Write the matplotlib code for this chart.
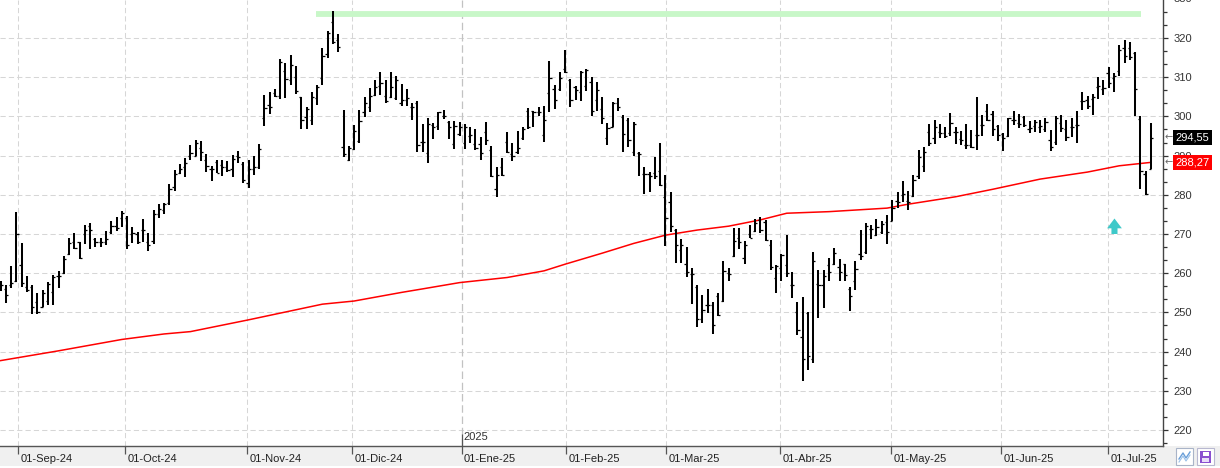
import matplotlib
matplotlib.use("Agg")
import matplotlib.pyplot as plt
import numpy as np
from matplotlib.patches import Rectangle, FancyArrow
from matplotlib.ticker import AutoMinorLocator

# ---------------- data (daily OHLC bars) ----------------
opens = [257, 256, 257, 258, 262, 256.5, 256.5, 252.6, 251.5, 253, 255.3, 259.4, 260, 265, 268, 268,
         270, 272, 268.6, 268, 268, 270.6, 272, 274, 274, 270, 270, 271, 268, 268.1, 275, 276, 278,
         282, 285.5, 287, 290, 290, 292, 289, 286.5, 288.3, 287.5, 287, 286.5, 290, 287.9, 283, 286.5,
         287, 299.5, 303, 306, 305.3, 311.6, 309.4, 310, 304.9, 299.9, 299, 304.8, 309.8, 316, 324,
         319.6, 292.3, 289, 291.6, 293.8, 301, 302.5, 305.5, 307.8, 305.1, 305, 304.7, 303.5, 304.2,
         302.5, 303.5, 293.4, 290.6, 297.8, 297.6, 300, 298.5, 293, 295.4, 293.1, 295, 293, 293, 296.1,
         291.4, 281.4,
         287, 293.4, 290.5, 291, 294.5, 301.5, 301.3, 301, 295.2, 306, 307.1, 307, 312, 309.2, 307.5,
         306.3, 307.7, 308.8, 304.1, 301.9, 294.5, 297.4, 303.4, 299.8, 299, 291, 290.7, 285.4, 285.2,
         285.5, 286,
         279.4, 278.2, 270.9, 265.8, 262.3, 259.7, 256.6, 248.3, 252, 252, 254.2, 252.8, 260, 264.3,
         268.9, 263.9, 270.1, 270.7, 273.6, 273, 267.2, 258.8, 261.2, 262, 257, 250, 243.6, 249.8, 238,
         257.3, 257, 262.1,
         262.4, 261.7, 262.4, 255.9, 257.9, 265, 265.3, 271.3, 269.7, 270.4, 273, 273.4, 278.4, 280,
         278.3, 279.7, 284.8, 287.4, 295.9, 294.4, 295.9, 295.7, 295.7, 296, 294.2, 292.8, 292.8, 295.2,
         297.8, 301.3, 300.6,
         297.6, 295.6, 294.9, 299.1, 298.3, 299.8, 296.8, 297.6, 297.4, 296.9, 294, 293.4, 298.3, 296.8,
         297.3, 297.8, 303.8, 304.3, 304.4, 307.5, 307, 311.1, 309.8, 311.7, 317.4, 317.4, 316.2, 299.3,
         285.4, 286.6]
highs = [258, 256.9, 261.8, 275.7, 267.8, 259.2, 256.9, 255, 255.8, 257.7, 259.5, 260.6, 264.5, 268.9,
         270.3, 268, 272.2, 272.9, 269.1, 269.1, 270.7, 273.3, 274.3, 275.9, 274.7, 271.9, 270.6, 273.8,
         270.2, 276, 277.6, 278, 282.7,
         286.3, 287.9, 289.3, 292.6, 294, 293.7, 290.4, 287.4, 289, 288.9, 288.6, 290.2, 291.2, 288.3,
         289, 289.9, 293, 305.5, 306.3, 307.1, 314.6, 313.6, 315.7, 312.9, 304.9, 302.4, 306.3, 308,
         317.4, 321.9, 327,
         321, 301.7, 292.5, 297.7, 301.7, 304.9, 307.2, 309.2, 311.4, 309.4, 311.2, 310.4, 308.2, 307,
         303.5, 304, 298, 299.6, 298.3, 301.1, 301.7, 298.8, 298.7, 298.5, 298.1, 297.2, 296.7, 294.7,
         298.6, 292.5, 287,
         289.4, 296.1, 293.2, 296.4, 297.3, 302.2, 301.5, 302.4, 302.7, 314.2, 308, 311.4, 317, 309.5,
         307.7, 311.6, 312.1, 310, 308.7, 304.9, 298.3, 303.6, 304.8, 300.4, 299.6, 298.6, 291, 287.2,
         285.7, 289.6, 293.2,
         285.1, 280.6, 271.2, 268.7, 266.6, 261.4, 257, 254.5, 256, 252.7, 255, 263.1, 261.4, 271.6,
         271.6, 268.1, 272.3, 273.8, 274.3, 273.6, 268.5, 262.1, 264.9, 269.8, 260.3, 252.6, 254, 250.1,
         265.3, 260.8, 260.8, 263.8,
         266.4, 263.7, 262.4, 256.4, 263.2, 270.9, 272.8, 272.3, 273.7, 273.2, 274.9, 278.6, 280.8,
         283.4, 280.9, 285, 291.5, 292.2, 298, 299.1, 298, 297.2, 300.8, 297.4, 296.3, 298.1, 296.6, 305,
         300.3, 303.2, 301.5,
         297.9, 295.7, 299.7, 301.5, 300.7, 300.2, 298.9, 299, 299.1, 299.5, 296.6, 300, 300.4, 299.1,
         299.6, 301.3, 306.1, 305.1, 305.8, 310, 309.4, 312.5, 311.1, 318.3, 319.6, 319, 316.3, 300.2,
         286, 298.3]
lows = [255.5, 252.4, 256.3, 257.8, 256.5, 255.3, 249.7, 249.5, 251.4, 251.8, 251.8, 256.2, 259.7, 264.7,
        266.2, 263.5, 267.4, 266.2, 266.8, 266.6, 267.3, 269.9, 270.8, 271.7, 266.2, 267.6, 267.4, 267.9,
        265.7, 267.4, 274, 275, 277.4,
        281, 285.2, 284.6, 288.9, 289.9, 288.5, 285.9, 283.6, 285.5, 284.8, 285.8, 284.5, 288.2, 283.1,
        281.8, 285.1, 286.6, 297.6, 300.6, 304.9, 304.4, 304.6, 308.1, 305.8, 296.9, 296.9, 297.9, 303,
        308.1, 314.8, 318.4,
        316.3, 289.6, 288.7, 291.3, 293.3, 299.8, 301, 305.1, 305.5, 303.5, 304.6, 304.2, 302.7, 302.7,
        299.1, 290.9, 290.8, 288.2, 294.2, 296.6, 299.3, 294.3, 291.6, 295, 291.6, 293.1, 291.3, 288.9,
        292.8, 284.6, 279.5,
        284.7, 290.6, 288.5, 290.5, 293.9, 296.8, 297.4, 300, 293.4, 301, 302, 306.6, 311.1, 302.4,
        304.3, 304, 306.4, 300, 301.5, 298, 292.8, 297.2, 301.3, 290.8, 292.3, 289.8, 284.7, 280.3,
        280.6, 284, 282.3,
        267, 270.5, 262.7, 262.5, 259.1, 252.1, 246.2, 247.2, 249.9, 244.6, 249.1, 252.6, 257.9, 264.1,
        266.1, 262.3, 268.9, 270.5, 270.2, 268.1, 260.7, 255, 258.1, 259.1, 253.8, 244.3, 232.5, 235.3,
        237.1, 248.5, 251.2, 258.1,
        262.1, 257.9, 257.9, 250.3, 255.7, 263.4, 264.9, 268.7, 269.4, 270.1, 267.5, 273.2, 276.7,
        278.1, 276.2, 279.5, 284.1, 285.8, 292.5, 292.9, 294.5, 294.4, 295, 292.9, 292.8, 291.6, 292,
        291.5, 295, 298.9, 294.9,
        293.6, 291.1, 294.7, 297.9, 297, 297.3, 295.7, 295.9, 295.7, 295.9, 291.1, 292.8, 295.9, 293.6,
        294.7, 293.2, 301.7, 301.9, 300.4, 304.4, 305.5, 307.2, 306.1, 310.2, 313.6, 314.5, 300, 281.4,
        280, 286.6]
closes = [257, 254.5, 257.5, 270, 257.6, 255.6, 251.5, 250, 255, 257.3, 259, 259.4, 263.7, 267.6, 266.5,
          264, 271, 271, 268, 268, 268.8, 272, 271.6, 275.3, 267.3, 270.2, 268, 271, 267.1, 275, 276.3,
          277.7, 281.6,
          285.3, 286.6, 288.1, 290.6, 293.1, 291, 287.4, 286.5, 285.6, 287, 286.3, 289.2, 289.7, 283.8,
          286.5, 287.2, 291.6, 302.1, 302.5, 305.3, 314, 309.5, 313.2, 306.6, 299.1, 301.8, 304.9, 307.5,
          315.3, 321.3, 319,
          317.7, 290.3, 292, 296.4, 298.9, 303.5, 305.1, 307.5, 308.5, 304, 307.5, 309.4, 304.2, 304.6,
          302.5, 292.6, 293.4, 298.1, 297.4, 301, 300, 297.4, 297.6, 297.4, 297.4, 295.3, 292, 290.6, 294,
          284.8, 285,
          285, 290.8, 290, 292, 296.8, 297.3, 301, 301, 299.1, 309.8, 304.2, 309.7, 311.3, 304.3, 306.8,
          311.3, 311.9, 301.3, 306.8, 299.6, 297, 303.4, 302.4, 295.6, 294, 298, 290.4, 285.4, 284.9,
          284.7, 282.5,
          274, 272.1, 267.2, 267.1, 260.2, 259.7, 248.3, 250.6, 252, 246.7, 249.3, 260.6, 259.8, 268.2,
          268, 267.2, 269, 272.9, 271.1, 268.5, 261.5, 261.9, 264.7, 260, 256.9, 245.5, 238.2, 238.8,
          263.1, 257, 259.3, 260.4,
          265.1, 260.2, 259.6, 254.2, 261, 264.4, 272, 271.3, 271.8, 272.6, 270.4, 276.6, 278.1, 280.1,
          278.1, 283.8, 289.7, 290.9, 293.3, 297.2, 295.7, 295, 298.3, 295.9, 294, 292.6, 292.3, 295.2,
          297.8, 299.1, 296.9,
          295.3, 294.5, 299.6, 299, 298, 297.9, 297, 298.5, 297.6, 298.5, 292.2, 299.6, 297, 294.7, 297.3,
          297.8, 303.8, 302.6, 304.9, 307.7, 307.2, 308.5, 310.2, 316.9, 315.3, 315.1, 307, 286, 280.3,
          294.55]

# 200-session moving average, read at a set of bars
ma_idx = [0, 11, 23, 31, 36, 47, 61, 67, 76, 80, 87, 96, 103, 107, 114, 120, 126, 132, 138, 144,
          149, 157, 168, 172, 181, 188, 197, 206, 212, 218]
ma_val = [237.7, 240.2, 243.1, 244.5, 245.1, 248.1, 252.1, 252.9, 255.1, 256.0, 257.6, 258.9, 260.6,
          262.3, 265.1, 267.6, 269.7, 271.0, 272.0, 273.6, 275.3, 275.7, 276.6, 277.6, 279.5, 281.4,
          284.0, 285.8, 287.4, 288.27]

month_labels = ['01-Sep-24', '01-Oct-24', '01-Nov-24', '01-Dic-24', '01-Ene-25', '01-Feb-25',
                '01-Mar-25', '01-Abr-25', '01-May-25', '01-Jun-25', '01-Jul-25']
month_pos = [3.37, 23.65, 46.77, 66.67, 87.4, 107.22, 126.17, 147.77, 168.81, 189.65, 209.93]
year_label = '2025'
year_month = 4  # index in month_labels where the year starts

resistance = 326.2
resistance_from, resistance_to = 59.8, 216.1
signal_bar, signal_price = 211.1, 270.0
last_close = closes[-1]
last_ma = ma_val[-1]

y_ticks = list(range(220, 330, 10))

# ---------------- figure ----------------
W, H = 1220, 468
fig = plt.figure(figsize=(W / 100, H / 100), dpi=100)
fig.patch.set_facecolor('white')
plt.rcParams['font.family'] = ['Liberation Sans', 'DejaVu Sans']

# bottom gray band (behind everything)
fig.patches.append(Rectangle((0, 2 / H), 1, 20 / H, transform=fig.transFigure,
                             facecolor='#f0f0f0', edgecolor='none', zorder=-5))

ax = fig.add_axes([0, 22 / H, 1163 / W, 446 / H])
ax.set_facecolor('white')

pxb = 5.277
x0 = -0.5 / pxb
ax.set_xlim(x0, x0 + 1163 / pxb)
ax.set_ylim(215.92, 329.69)

xs = np.arange(len(closes))
o = np.clip(opens, lows, highs)
c = np.clip(closes, lows, highs)

# grid
for v in y_ticks:
    ax.axhline(v, color='#d6d6d6', lw=0.75, ls=(0, (5, 3)), zorder=1)
for i, p in enumerate(month_pos):
    if i == year_month:
        ax.axvline(p, color='#c2c2c2', lw=0.9, ls=(0, (6, 3)), zorder=1)
    else:
        ax.axvline(p, color='#d6d6d6', lw=0.75, ls=(0, (5, 3)), zorder=1)

# resistance band
ax.hlines(resistance, resistance_from, resistance_to, color='#c8f7c8', lw=4.2, zorder=2,
          capstyle='butt')

# moving average
ax.plot(ma_idx, ma_val, color='#ff0000', lw=1.1, zorder=3, solid_joinstyle='round')

# OHLC bars
ax.vlines(xs, lows, highs, color='black', lw=1.45, zorder=4)
ax.hlines(o, xs - 0.42, xs, color='black', lw=0.9, zorder=4)
ax.hlines(c, xs, xs + 0.42, color='black', lw=0.9, zorder=4)

# signal arrow
ax.add_patch(FancyArrow(signal_bar, signal_price, 0, 3.95, width=1.15, head_width=2.8,
                        head_length=2.5, length_includes_head=True, color='#3ec9c9',
                        lw=0, zorder=5))

# spines
for s in ['left', 'top']:
    ax.spines[s].set_visible(False)
ax.spines['right'].set_color('#444444')
ax.spines['bottom'].set_color('#555555')
ax.spines['right'].set_linewidth(1.0)
ax.spines['bottom'].set_linewidth(1.0)

# y axis on the right
ax.yaxis.tick_right()
ax.set_yticks(y_ticks)
ax.set_yticklabels([str(v) for v in y_ticks])
ax.yaxis.set_minor_locator(AutoMinorLocator(3))
ax.tick_params(axis='y', which='major', length=3.8, width=0.9, pad=4.0, labelsize=8,
               colors='#333333')
ax.tick_params(axis='y', which='minor', length=2.6, width=0.9, colors='#333333')
ax.annotate('330', xy=(1, 330), xycoords=('axes fraction', 'data'), xytext=(11, 0),
            textcoords='offset pixels', ha='left', va='center', fontsize=8, color='#333333',
            annotation_clip=False)

# x axis
ax.set_xticks(month_pos)
ax.set_xticklabels([''] * len(month_pos))
ax.tick_params(axis='x', which='major', length=6, width=0.9, colors='#555555', direction='out')
for lab, p in zip(month_labels, month_pos):
    ax.annotate(lab, xy=(p, 0), xycoords=('data', 'axes fraction'), xytext=(2, -12.5),
                textcoords='offset pixels', ha='left', va='center', fontsize=8, color='#222222',
                annotation_clip=False, zorder=10)
xt = ax.get_xaxis_transform()
ax.vlines(month_pos[year_month], 0, 12 / 446, transform=xt, color='#555555', lw=0.9, zorder=5)
ax.annotate(year_label, xy=(month_pos[year_month], 0), xycoords=('data', 'axes fraction'),
            xytext=(2, 8.5), textcoords='offset pixels', ha='left', va='center', fontsize=8,
            color='#333333')

# value boxes on the right axis
for val, bg in [(last_close, 'black'), (last_ma, '#ff0000')]:
    txt = f'{val:.2f}'.replace('.', ',')
    ax.annotate(txt, xy=(1, val), xycoords=('axes fraction', 'data'), xytext=(12.5, 0),
                textcoords='offset pixels', ha='left', va='center', fontsize=8, color='white',
                bbox=dict(boxstyle='square,pad=0.22', fc=bg, ec='none'), zorder=20,
                annotation_clip=False)
    ax.annotate('\u2190', xy=(1, val), xycoords=('axes fraction', 'data'), xytext=(1.5, 0),
                textcoords='offset pixels', ha='left', va='center', fontsize=7, color='#666666',
                family=['DejaVu Sans'], zorder=20, annotation_clip=False)

# bottom-right icons
def fig_rect(x, y, w, h, **kw):
    fig.patches.append(Rectangle((x / W, 1 - (y + h) / H), w / W, h / H,
                                 transform=fig.transFigure, **kw))

fig_rect(1176, 448, 17, 17, facecolor='white', edgecolor='#a9b4c8', lw=0.8, zorder=1)
zz = np.array([[1179, 459], [1183, 453], [1186, 458], [1190, 452]])
fig.lines.append(plt.Line2D(zz[:, 0] / W, 1 - zz[:, 1] / H, transform=fig.transFigure,
                            color='#6a9fd8', lw=1.0, zorder=2))
fig.lines.append(plt.Line2D(zz[:, 0] / W, 1 - (zz[:, 1] + 3) / H, transform=fig.transFigure,
                            color='#9ac0e8', lw=0.8, zorder=2))
fig_rect(1197, 448, 17, 17, facecolor='white', edgecolor='#b8b8d0', lw=0.8, zorder=1)
fig_rect(1200, 450.5, 11, 12, facecolor='#8a4fd0', edgecolor='none', zorder=2)
fig_rect(1202.5, 451.5, 6, 4, facecolor='white', edgecolor='none', zorder=3)
fig_rect(1202, 458, 7, 4, facecolor='#e8dcf8', edgecolor='none', zorder=3)

fig.savefig('out.png', dpi=100)
